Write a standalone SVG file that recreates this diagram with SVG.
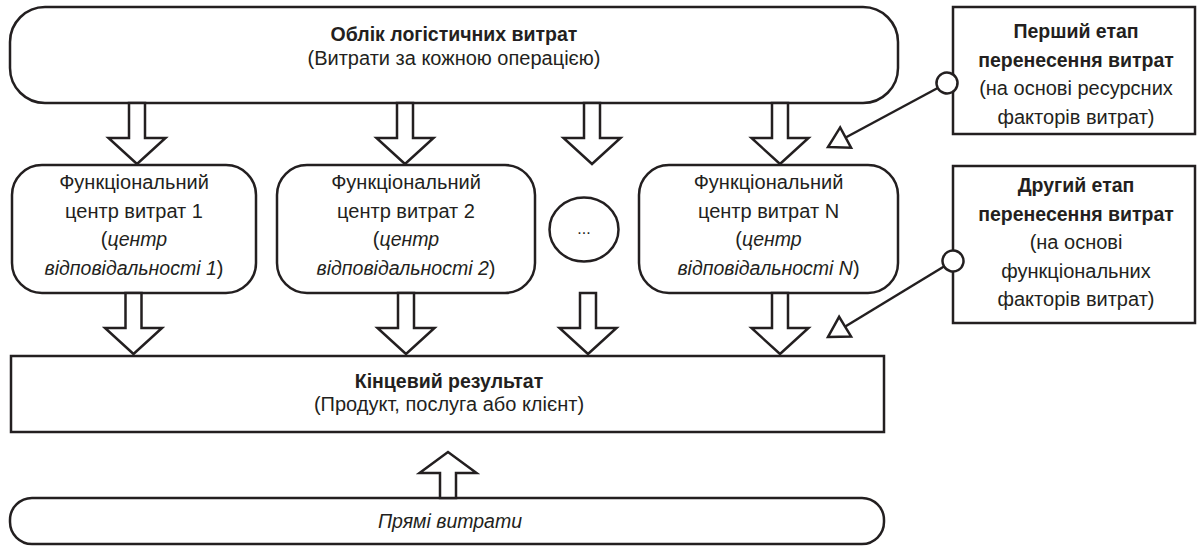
<svg xmlns="http://www.w3.org/2000/svg" width="1197" height="546" viewBox="0 0 1197 546">
<defs>
<style>
.box{fill:#fff;stroke:#231f20;stroke-width:2.5}
.arr{fill:#fff;stroke:#231f20;stroke-width:2.5;stroke-linejoin:miter}
.t{font-family:"Liberation Sans",Arial,sans-serif;font-size:20px;fill:#231f20;text-anchor:middle}
.b{font-weight:bold;font-size:19.5px}
.i{font-style:italic;font-size:19.5px}
.con{fill:none;stroke:#231f20;stroke-width:2.5}
</style>
<marker id="ring" markerUnits="userSpaceOnUse" overflow="visible" markerWidth="24" markerHeight="24" refX="0" refY="0" orient="auto">
<circle cx="0" cy="0" r="10.5" fill="#fff" stroke="#231f20" stroke-width="2.5"/>
</marker>
<marker id="tri" markerUnits="userSpaceOnUse" overflow="visible" markerWidth="24" markerHeight="24" refX="0" refY="0" orient="auto">
<polygon points="0,0 -20,-11.5 -20,11.5" fill="#fff" stroke="#231f20" stroke-width="2.5" stroke-linejoin="miter"/>
</marker>
</defs>

<g id="top">
<rect class="box" x="10" y="7" width="888" height="96" rx="35" ry="35"/>
<text class="t b" x="454" y="41">Облік логістичних витрат</text>
<text class="t" x="454" y="65">(Витрати за кожною операцією)</text>
</g>

<g id="stage1">
<rect class="box" x="953" y="7" width="242" height="127"/>
<text class="t b" x="1076" y="38">Перший етап</text>
<text class="t b" x="1076" y="66.5">перенесення витрат</text>
<text class="t" x="1076" y="95">(на основі ресурсних</text>
<text class="t" x="1076" y="123.5">факторів витрат)</text>
</g>

<g id="stage2">
<rect class="box" x="953" y="166" width="242" height="157"/>
<text class="t b" x="1076" y="192">Другий етап</text>
<text class="t b" x="1076" y="220.5">перенесення витрат</text>
<text class="t" x="1076" y="249">(на основі</text>
<text class="t" x="1076" y="277.5">функціональних</text>
<text class="t" x="1076" y="306">факторів витрат)</text>
</g>

<g id="fc1">
<rect class="box" x="12" y="165" width="244" height="128" rx="30" ry="30"/>
<text class="t" x="134" y="189">Функціональний</text>
<text class="t" x="134" y="217.5">центр витрат 1</text>
<text class="t" x="134" y="246">(<tspan class="i">центр</tspan></text>
<text class="t" x="134" y="274.5"><tspan class="i">відповідальності 1</tspan>)</text>
</g>

<g id="fc2">
<rect class="box" x="277" y="165" width="258" height="128" rx="30" ry="30"/>
<text class="t" x="406" y="189">Функціональний</text>
<text class="t" x="406" y="217.5">центр витрат 2</text>
<text class="t" x="406" y="246">(<tspan class="i">центр</tspan></text>
<text class="t" x="406" y="274.5"><tspan class="i">відповідальності 2</tspan>)</text>
</g>

<g id="ellipsis">
<ellipse class="box" cx="584" cy="229.5" rx="34.5" ry="32"/>
<text class="t" x="584" y="234" style="font-size:16px">...</text>
</g>

<g id="fcN">
<rect class="box" x="639" y="165" width="259" height="128" rx="30" ry="30"/>
<text class="t" x="768.5" y="189">Функціональний</text>
<text class="t" x="768.5" y="217.5">центр витрат N</text>
<text class="t" x="768.5" y="246">(<tspan class="i">центр</tspan></text>
<text class="t" x="768.5" y="274.5"><tspan class="i">відповідальності N</tspan>)</text>
</g>

<g id="result">
<rect class="box" x="11" y="356" width="873" height="76"/>
<text class="t b" x="449" y="388">Кінцевий результат</text>
<text class="t" x="449" y="411">(Продукт, послуга або клієнт)</text>
</g>

<g id="direct">
<rect class="box" x="10" y="498" width="874" height="46" rx="22" ry="22"/>
<text class="t i" x="450" y="528">Прямі витрати</text>
</g>

<g id="connectors">
<polygon class="arr" points="129,103 129,138 108.5,138 137,164 165.5,138 145,138 145,103"/>
<polygon class="arr" points="397,103 397,138 376.5,138 405,164 433.5,138 413,138 413,103"/>
<polygon class="arr" points="584,103 584,138 563.5,138 592,164 620.5,138 600,138 600,103"/>
<polygon class="arr" points="772,103 772,138 751.5,138 780,164 808.5,138 788,138 788,103"/>
<polygon class="arr" points="125.5,293 125.5,328 105,328 133.5,354 162,328 141.5,328 141.5,293"/>
<polygon class="arr" points="398,293 398,328 377.5,328 406,354 434.5,328 414,328 414,293"/>
<polygon class="arr" points="580,293 580,328 559.5,328 588,354 616.5,328 596,328 596,293"/>
<polygon class="arr" points="772,293 772,328 751.5,328 780,354 808.5,328 788,328 788,293"/>
<polygon class="arr" points="440,498 440,473 419.5,473 448,452 476.5,473 456,473 456,498"/>
<path class="con" d="M947,83 L828,147" marker-start="url(#ring)" marker-end="url(#tri)"/>
<path class="con" d="M953,261 L828,337" marker-start="url(#ring)" marker-end="url(#tri)"/>
</g>
</svg>
